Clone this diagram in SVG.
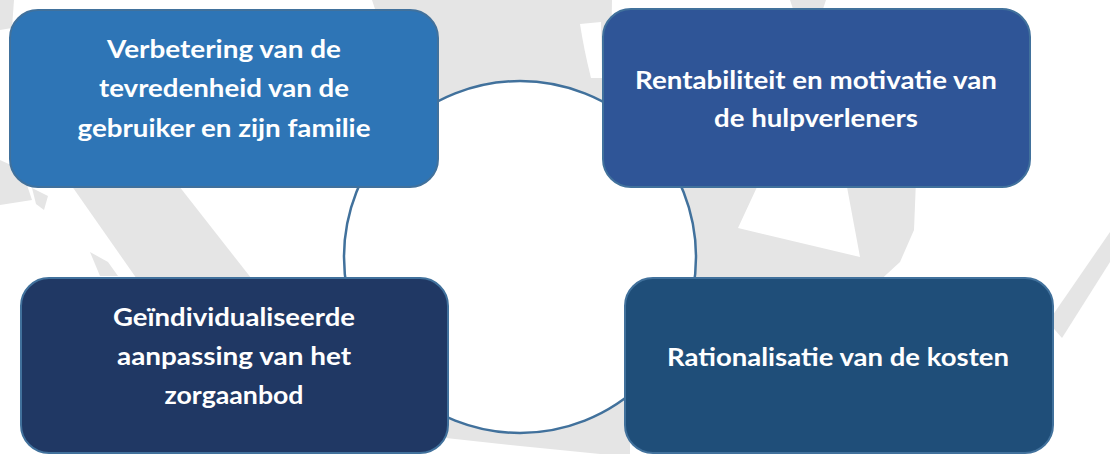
<svg xmlns="http://www.w3.org/2000/svg" width="1110" height="454" viewBox="0 0 1110 454">
<style>
.wm{fill:#E5E5E5}
.box{stroke:#41719C;stroke-width:2}
.lbl{font-family:Lato,"Open Sans","Liberation Sans",sans-serif;font-weight:700;font-size:24.5px;fill:#FFFFFF;text-anchor:middle}
</style>
<rect width="1110" height="454" fill="#FFFFFF"/>
<g id="watermark">
  <path class="wm" d="M372,0 L612,0 L610,120 L420,120 L420,12 L376,12 Z"/>
  <path class="wm" d="M790,0 L826,0 L822,12 L794,12 Z"/>
  <path fill="#FFFFFF" d="M580,24 L601,22 L602,78 L591,78 Q584,50 580,24 Z"/>
  <path class="wm" d="M0,0 L14,0 L12,28 L0,30 Z"/>
  <path class="wm" d="M0,160 L22,170 L32,200 L0,205 Z"/>
  <path class="wm" d="M62,172 L168,172 L262,292 L146,292 Z"/>
  <path class="wm" d="M32,188 L48,196 L44,210 L36,204 Z"/>
  <path class="wm" d="M90,252 L108,262 L118,276 L100,276 Z"/>
  <path class="wm" fill-rule="evenodd" d="M680,180 L916,180 L914,230 L900,262 L875,285 L700,290 L680,290 Z M757,187 L847,187 L860,257 L738,228 Z"/>
  <path class="wm" d="M1110,232 L1110,262 L1062,338 L1048,322 Z"/>
  <path class="wm" d="M440,395 L630,395 L630,454 L600,454 L520,446 L446,438 Z"/>
</g>
<g id="connectors">
  <circle cx="520" cy="257" r="176" fill="#FFFFFF" stroke="#41719C" stroke-width="2.5"/>
</g>
<g id="node-1">
  <rect class="box" x="10" y="10" width="428" height="177" rx="28" fill="#2E75B6"/>
  <text class="lbl" x="224" y="57.5" textLength="234" lengthAdjust="spacingAndGlyphs">Verbetering van de</text>
  <text class="lbl" x="224" y="97" textLength="250" lengthAdjust="spacingAndGlyphs">tevredenheid van de</text>
  <text class="lbl" x="224" y="136.5" textLength="293" lengthAdjust="spacingAndGlyphs">gebruiker en zijn familie</text>
</g>
<g id="node-2">
  <rect class="box" x="603" y="9" width="427" height="178" rx="28" fill="#2F5597"/>
  <text class="lbl" x="816" y="89" textLength="362" lengthAdjust="spacingAndGlyphs">Rentabiliteit en motivatie van</text>
  <text class="lbl" x="816" y="127" textLength="204" lengthAdjust="spacingAndGlyphs">de hulpverleners</text>
</g>
<g id="node-3">
  <rect class="box" x="21" y="278" width="427" height="175" rx="28" fill="#203864"/>
  <text class="lbl" x="234" y="326" textLength="242" lengthAdjust="spacingAndGlyphs">Geïndividualiseerde</text>
  <text class="lbl" x="234" y="365" textLength="234" lengthAdjust="spacingAndGlyphs">aanpassing van het</text>
  <text class="lbl" x="234" y="403.5" textLength="139" lengthAdjust="spacingAndGlyphs">zorgaanbod</text>
</g>
<g id="node-4">
  <rect class="box" x="625" y="278" width="428" height="175" rx="28" fill="#1F4E79"/>
  <text class="lbl" x="838" y="366" textLength="342" lengthAdjust="spacingAndGlyphs">Rationalisatie van de kosten</text>
</g>
</svg>
